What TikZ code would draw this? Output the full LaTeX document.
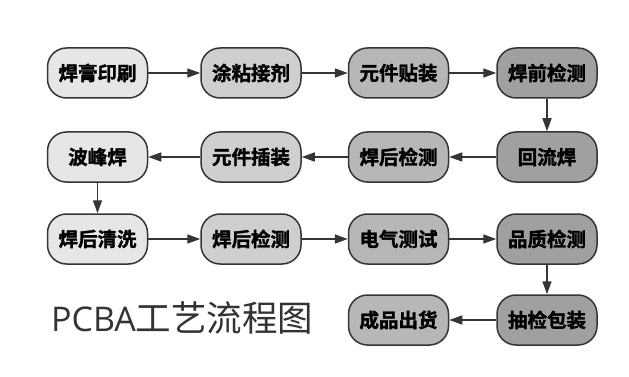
\documentclass[tikz,border=0pt]{standalone}
\usepackage{fontspec}
\usepackage{tikz}
\usepackage{xcolor}
\usetikzlibrary{positioning, arrows.meta}
\newfontfamily\cjk{Noto Sans CJK SC}
\newfontfamily\cjkheavy{Noto Sans CJK SC Bold}[FakeBold=1.6]
\newfontfamily\latinsans{Open Sans}
\definecolor{boxone}{HTML}{E6E6E6}
\definecolor{boxtwo}{HTML}{CFCFCF}
\definecolor{boxthree}{HTML}{B7B7B7}
\definecolor{boxfour}{HTML}{A0A0A0}
\definecolor{edgegray}{HTML}{353535}
\definecolor{titlegray}{HTML}{333333}

\begin{document}
\begin{tikzpicture}[x=1pt, y=-1pt, >={Triangle[length=13pt, width=9pt]}]
        \tikzset{
            procbox/.style={draw=edgegray, line width=1.5pt, rounded corners=19pt,
                minimum width=100pt, minimum height=50pt, inner sep=0pt,
                font=\cjkheavy\fontsize{19.5}{22}\selectfont, text=black},
            flowarrow/.style={->, line width=1.5pt, draw=edgegray, fill=edgegray}
        }
        % Fondo y marco
        \fill[white] (0,0) rectangle (629,377);
        \useasboundingbox (0,0) rectangle (629,377);

        % Fila 1
        \node[procbox, fill=boxone]   (shuaxi)  at (97.5, 73) {焊膏印刷};
        \node[procbox, fill=boxtwo]   (tujiao)  at (251, 73) {涂粘接剂};
        \node[procbox, fill=boxthree] (tiezhuang) at (398.5, 73) {元件贴装};
        \node[procbox, fill=boxfour]  (qianjian) at (547, 73) {焊前检测};

        % Fila 2
        \node[procbox, fill=boxfour]  (huiliu)  at (547, 157) {回流焊};
        \node[procbox, fill=boxthree] (houjianA) at (398.5, 157) {焊后检测};
        \node[procbox, fill=boxtwo]   (chazhuang) at (251, 157) {元件插装};
        \node[procbox, fill=boxone]   (bofeng)  at (97.5, 157) {波峰焊};

        % Fila 3
        \node[procbox, fill=boxone]   (qingxi)  at (97.5, 239) {焊后清洗};
        \node[procbox, fill=boxtwo]   (houjianB) at (251, 239) {焊后检测};
        \node[procbox, fill=boxthree] (dianqi)  at (398.5, 239) {电气测试};
        \node[procbox, fill=boxfour]  (pinzhi)  at (547, 239) {品质检测};

        % Fila 4
        \node[procbox, fill=boxfour]  (choujian) at (547, 320) {抽检包装};
        \node[procbox, fill=boxthree] (chuhuo)  at (398.5, 320) {成品出货};

        % Titulo
        \node[anchor=base west, text=titlegray, font=\cjk\fontsize{35.5}{40}\selectfont, inner sep=0pt]
            (titulo) at (51, 331) {{\latinsans\fontsize{34}{40}\selectfont PCBA}工艺流程图};

        % Flechas
        \draw[flowarrow] (shuaxi) -- (tujiao);
        \draw[flowarrow] (tujiao) -- (tiezhuang);
        \draw[flowarrow] (tiezhuang) -- (qianjian);
        \draw[flowarrow] (qianjian) -- (huiliu);
        \draw[flowarrow] (huiliu) -- (houjianA);
        \draw[flowarrow] (houjianA) -- (chazhuang);
        \draw[flowarrow] (chazhuang) -- (bofeng);
        \draw[flowarrow] (bofeng) -- (qingxi);
        \draw[flowarrow] (qingxi) -- (houjianB);
        \draw[flowarrow] (houjianB) -- (dianqi);
        \draw[flowarrow] (dianqi) -- (pinzhi);
        \draw[flowarrow] (pinzhi) -- (choujian);
        \draw[flowarrow] (choujian) -- (chuhuo);
    \end{tikzpicture}
\end{document}
